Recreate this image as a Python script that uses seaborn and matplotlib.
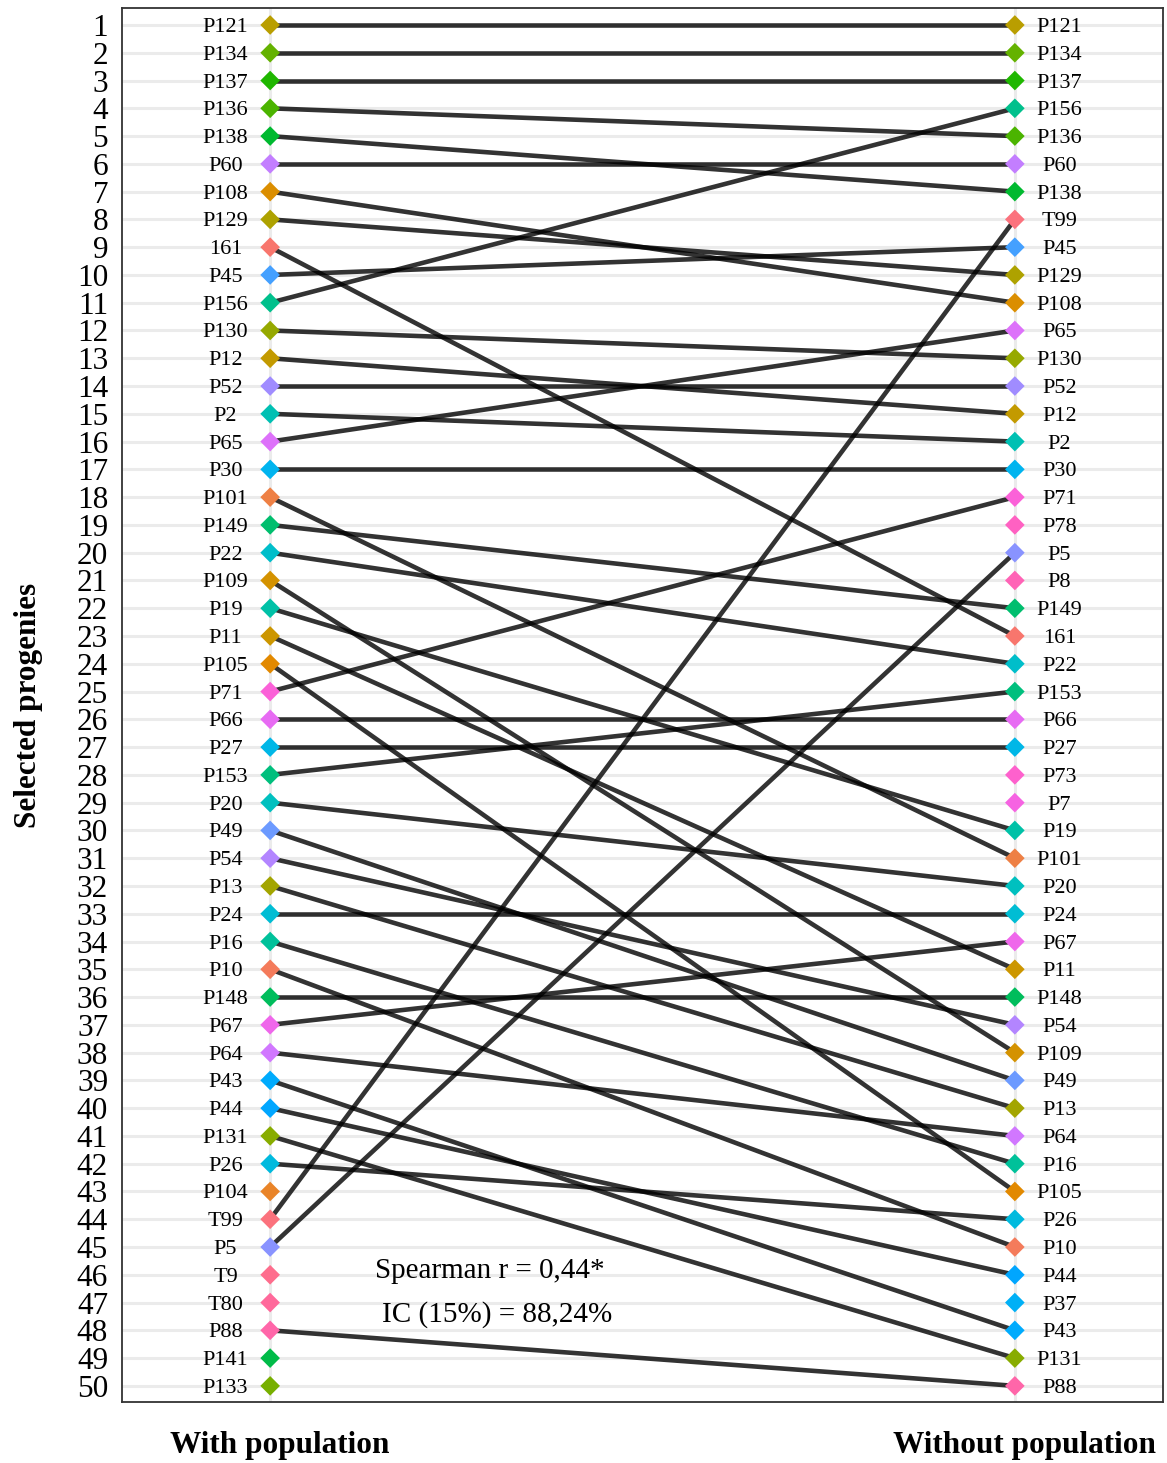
import numpy as np
import pandas as pd
import matplotlib
matplotlib.use("Agg")
import matplotlib.pyplot as plt
import matplotlib.transforms as mtransforms
import seaborn as sns

# ---- data ----
with_population = ["P121", "P134", "P137", "P136", "P138", "P60", "P108", "P129", "161", "P45",
                   "P156", "P130", "P12", "P52", "P2", "P65", "P30", "P101", "P149", "P22",
                   "P109", "P19", "P11", "P105", "P71", "P66", "P27", "P153", "P20", "P49",
                   "P54", "P13", "P24", "P16", "P10", "P148", "P67", "P64", "P43", "P44",
                   "P131", "P26", "P104", "T99", "P5", "T9", "T80", "P88", "P141", "P133"]
without_population = ["P121", "P134", "P137", "P156", "P136", "P60", "P138", "T99", "P45", "P129",
                      "P108", "P65", "P130", "P52", "P12", "P2", "P30", "P71", "P78", "P5",
                      "P8", "P149", "161", "P22", "P153", "P66", "P27", "P73", "P7", "P19",
                      "P101", "P20", "P24", "P67", "P11", "P148", "P54", "P109", "P49", "P13",
                      "P64", "P16", "P105", "P26", "P10", "P44", "P37", "P43", "P131", "P88"]
group_labels = ["With population", "Without population"]
annotation_lines = ["Spearman r = 0,44*", "IC (15%) = 88,24%"]

# ---- ggplot-like hue palette (HCL, l=65, c=100) ----
def hcl_hex(h, c=100.0, l=65.0):
    Xn, Yn, Zn = 95.047, 100.0, 108.883
    hr = np.deg2rad(h)
    u, v = c * np.cos(hr), c * np.sin(hr)
    den = Xn + 15 * Yn + 3 * Zn
    un, vn = 4 * Xn / den, 9 * Yn / den
    Y = Yn * ((l + 16) / 116) ** 3 if l > 8 else Yn * l / 903.3
    up = u / (13 * l) + un
    vp = v / (13 * l) + vn
    X = Y * 9 * up / (4 * vp)
    Z = Y * (12 - 3 * up - 20 * vp) / (4 * vp)
    X, Y, Z = X / 100, Y / 100, Z / 100
    r = 3.240479 * X - 1.537150 * Y - 0.498535 * Z
    g = -0.969256 * X + 1.875992 * Y + 0.041556 * Z
    b = 0.055648 * X - 0.204043 * Y + 1.057311 * Z
    def gam(t):
        t = 12.92 * t if t <= 0.0031308 else 1.055 * t ** (1 / 2.4) - 0.055
        return min(max(t, 0), 1)
    return (gam(r), gam(g), gam(b))

levels = sorted(set(with_population) | set(without_population))
n = len(levels)
palette = {lv: hcl_hex(15 + i * 360.0 / n) for i, lv in enumerate(levels)}

# ---- long table ----
df = pd.concat([
    pd.DataFrame({"progeny": with_population, "rank": np.arange(1, len(with_population) + 1), "x": 1.0}),
    pd.DataFrame({"progeny": without_population, "rank": np.arange(1, len(without_population) + 1), "x": 2.0}),
], ignore_index=True)
common = set(with_population) & set(without_population)
lines_df = df[df["progeny"].isin(common)]

# ---- plot ----
sns.set_theme(style="white")
plt.rcParams["font.family"] = ["Liberation Serif", "DejaVu Serif"]
plt.rcParams["text.color"] = "black"
plt.rcParams["xtick.color"] = "black"
plt.rcParams["ytick.color"] = "black"
plt.rcParams["axes.labelcolor"] = "black"

fig = plt.figure(figsize=(11.67, 14.63), dpi=100)
ax = fig.add_axes([0.1045, 0.0417, 0.8921, 0.9528])

# grid
for r in range(1, 51):
    ax.axhline(r, color="#EBEBEB", lw=2.2, zorder=0)
for xv in (1, 2):
    ax.axvline(xv, color="#EBEBEB", lw=2.2, zorder=0)

sns.lineplot(data=lines_df, x="x", y="rank", units="progeny", estimator=None,
             color="black", alpha=0.8, lw=3.3, ax=ax, legend=False, zorder=2)
sns.scatterplot(data=df, x="x", y="rank", hue="progeny", palette=palette,
                marker="D", s=100, linewidth=0, ax=ax, legend=False, zorder=3)

off = 0.06
for _, row in df.iterrows():
    xx = row["x"] - off if row["x"] == 1 else row["x"] + off
    ax.text(xx, row["rank"], row["progeny"], ha="center", va="center_baseline",
            fontsize=16, color="black", zorder=4)

ax.text(1.295, 45.75, annotation_lines[0], ha="center", va="center_baseline", fontsize=21, color="black")
ax.text(1.305, 47.30, annotation_lines[1], ha="center", va="center_baseline", fontsize=21, color="black")

ax.set_xlim(0.801, 2.199)
ax.set_ylim(50.58, 0.39)
ax.set_yticks(range(1, 51))
ax.set_yticklabels([str(i) for i in range(1, 51)], fontsize=22.5, color="black")
ax.set_xticks([1, 2])
ax.set_xticklabels(group_labels, fontsize=22.5, fontweight="bold", color="black")
ax.tick_params(axis="y", length=7, width=1.3, color="#333333", pad=3)
ax.tick_params(axis="x", length=9, width=1.3, color="#333333", pad=12)
shift = mtransforms.ScaledTranslation(10 / 100, 0, fig.dpi_scale_trans)
for lab in ax.get_xticklabels():
    lab.set_transform(lab.get_transform() + shift)
ax.set_xlabel("")
ax.set_ylabel("Selected progenies", fontsize=22.5, fontweight="bold", labelpad=24, color="black")
for sp in ax.spines.values():
    sp.set_color("#333333")
    sp.set_linewidth(1.3)
    sp.set_visible(True)

fig.savefig("out.png", dpi=100)
